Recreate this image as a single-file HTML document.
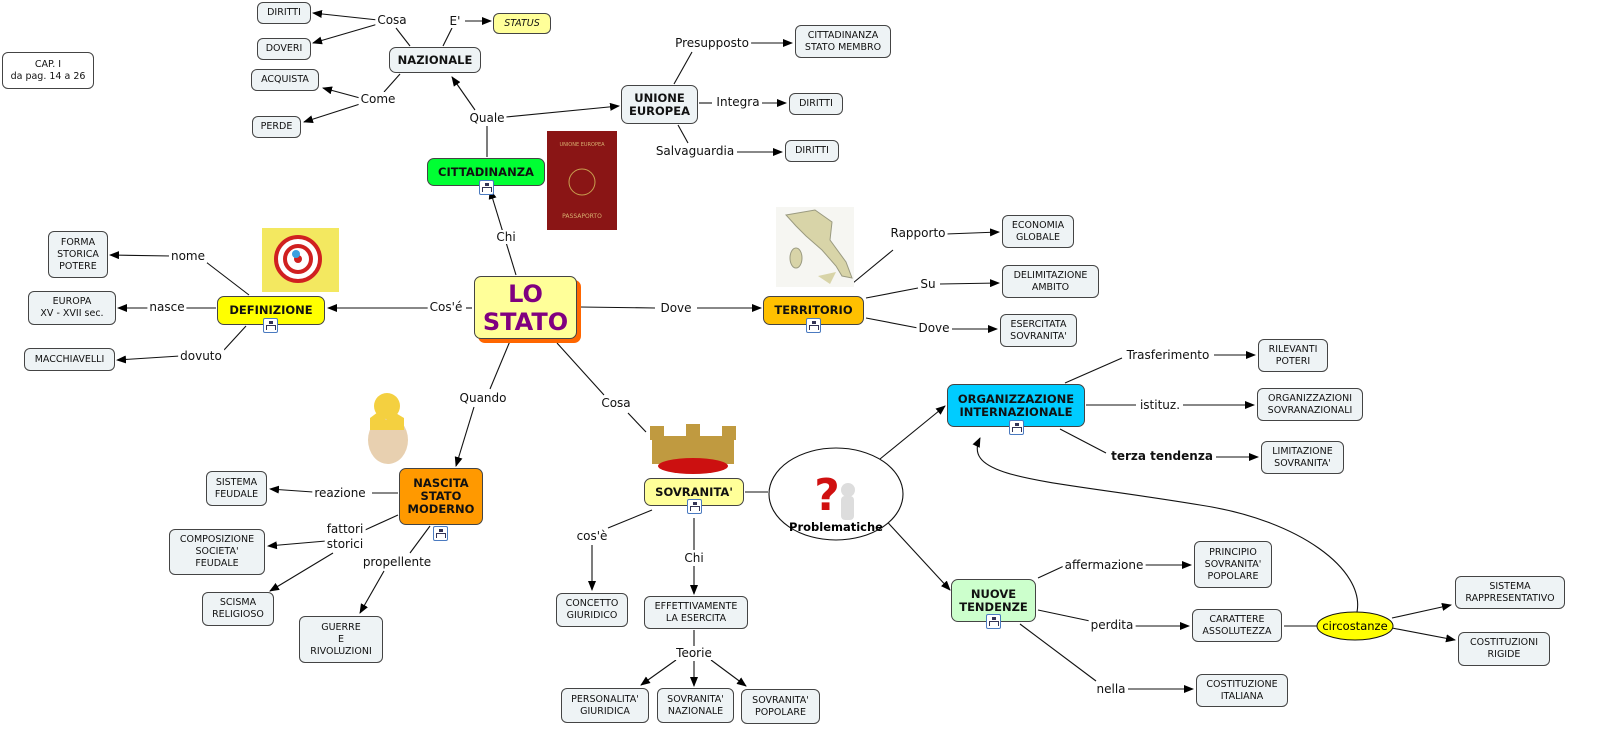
<!DOCTYPE html>
<html><head><meta charset="utf-8"><style>
body{margin:0;width:1603px;height:743px;background:#fff;position:relative;overflow:hidden;font-family:"DejaVu Sans","Liberation Sans",sans-serif}
.b{position:absolute;box-sizing:border-box;border:1px solid #444;border-radius:6px;background:#eef3f5;font-size:9.5px;color:#111;display:flex;align-items:center;justify-content:center;text-align:center;line-height:12px}
.m{font-weight:bold;font-size:11.5px;line-height:13px;border-radius:7px}
.l{position:absolute;font-size:12px;color:#111;background:#fff;padding:0 2px;transform:translate(-50%,-50%);white-space:nowrap;line-height:14px}
.ic{position:absolute;width:15px;height:15px;border:1px solid #4a7ac0;border-radius:2px;background:#fff;box-sizing:border-box}
.ic:before{content:"";position:absolute;left:5px;top:2px;width:4px;height:3px;background:#335}
.ic:after{content:"";position:absolute;left:2px;top:6px;width:8px;height:4px;border:1px solid #335;border-bottom:none}
svg{position:absolute;left:0;top:0}
</style></head><body>
<svg width="1603" height="743">
<defs><marker id="a" markerWidth="10" markerHeight="8" refX="9" refY="4" orient="auto" markerUnits="userSpaceOnUse"><path d="M0,0 L10,4 L0,8z" fill="#000"/></marker></defs>
<g stroke="#111" stroke-width="1.1" fill="none">
<line x1="378" y1="20" x2="313" y2="13" marker-end="url(#a)"/>
<line x1="378" y1="24" x2="313" y2="43" marker-end="url(#a)"/>
<line x1="396" y1="28" x2="410" y2="46"/>
<line x1="452" y1="28" x2="443" y2="46"/>
<line x1="465" y1="21" x2="491" y2="21" marker-end="url(#a)"/>
<line x1="400" y1="74" x2="384" y2="92"/>
<line x1="360" y1="98" x2="323" y2="88" marker-end="url(#a)"/>
<line x1="360" y1="104" x2="304" y2="122" marker-end="url(#a)"/>
<line x1="475" y1="110" x2="452" y2="77" marker-end="url(#a)"/>
<line x1="506" y1="117" x2="619" y2="106" marker-end="url(#a)"/>
<line x1="487" y1="126" x2="487" y2="157"/>
<line x1="674" y1="84" x2="692" y2="52"/>
<line x1="736" y1="43" x2="792" y2="43" marker-end="url(#a)"/>
<line x1="699" y1="103" x2="712" y2="103"/>
<line x1="762" y1="103" x2="786" y2="103" marker-end="url(#a)"/>
<line x1="678" y1="125" x2="688" y2="143"/>
<line x1="737" y1="152" x2="782" y2="152" marker-end="url(#a)"/>
<line x1="516" y1="275" x2="490" y2="190" marker-end="url(#a)"/>
<line x1="472" y1="308" x2="466" y2="308"/>
<line x1="428" y1="308" x2="328" y2="308" marker-end="url(#a)"/>
<line x1="249" y1="295" x2="206" y2="262"/>
<line x1="171" y1="256" x2="110" y2="255" marker-end="url(#a)"/>
<line x1="216" y1="308" x2="186" y2="308"/>
<line x1="148" y1="308" x2="118" y2="308" marker-end="url(#a)"/>
<line x1="246" y1="326" x2="224" y2="350"/>
<line x1="180" y1="356" x2="117" y2="360" marker-end="url(#a)"/>
<line x1="580" y1="307" x2="655" y2="308"/>
<line x1="697" y1="308" x2="761" y2="308" marker-end="url(#a)"/>
<line x1="853" y1="283" x2="893" y2="250"/>
<line x1="946" y1="234" x2="999" y2="232" marker-end="url(#a)"/>
<line x1="866" y1="298" x2="918" y2="288"/>
<line x1="940" y1="284" x2="999" y2="283" marker-end="url(#a)"/>
<line x1="866" y1="318" x2="918" y2="328"/>
<line x1="952" y1="329" x2="997" y2="329" marker-end="url(#a)"/>
<line x1="510" y1="341" x2="490" y2="389"/>
<line x1="474" y1="407" x2="456" y2="466" marker-end="url(#a)"/>
<line x1="557" y1="343" x2="604" y2="395"/>
<line x1="628" y1="413" x2="646" y2="432"/>
<line x1="398" y1="493" x2="372" y2="493"/>
<line x1="313" y1="492" x2="270" y2="489" marker-end="url(#a)"/>
<line x1="398" y1="515" x2="365" y2="530"/>
<line x1="326" y1="541" x2="268" y2="546" marker-end="url(#a)"/>
<line x1="333" y1="553" x2="270" y2="591" marker-end="url(#a)"/>
<line x1="430" y1="526" x2="410" y2="553"/>
<line x1="384" y1="571" x2="360" y2="613" marker-end="url(#a)"/>
<line x1="745" y1="492" x2="768" y2="492"/>
<line x1="652" y1="510" x2="608" y2="528"/>
<line x1="592" y1="545" x2="592" y2="590" marker-end="url(#a)"/>
<line x1="694" y1="518" x2="694" y2="550"/>
<line x1="694" y1="566" x2="694" y2="594" marker-end="url(#a)"/>
<line x1="694" y1="630" x2="694" y2="646"/>
<line x1="676" y1="660" x2="641" y2="685" marker-end="url(#a)"/>
<line x1="694" y1="661" x2="694" y2="686" marker-end="url(#a)"/>
<line x1="711" y1="660" x2="746" y2="686" marker-end="url(#a)"/>
<line x1="880" y1="459" x2="945" y2="406" marker-end="url(#a)"/>
<line x1="880" y1="514" x2="950" y2="590" marker-end="url(#a)"/>
<line x1="1065" y1="383" x2="1122" y2="358"/>
<line x1="1214" y1="355" x2="1255" y2="355" marker-end="url(#a)"/>
<line x1="1086" y1="405" x2="1136" y2="405"/>
<line x1="1183" y1="405" x2="1254" y2="405" marker-end="url(#a)"/>
<line x1="1060" y1="429" x2="1106" y2="453"/>
<line x1="1216" y1="457" x2="1258" y2="457" marker-end="url(#a)"/>
<line x1="1038" y1="578" x2="1064" y2="566"/>
<line x1="1145" y1="565" x2="1191" y2="565" marker-end="url(#a)"/>
<line x1="1038" y1="610" x2="1090" y2="621"/>
<line x1="1134" y1="626" x2="1189" y2="626" marker-end="url(#a)"/>
<line x1="1020" y1="624" x2="1096" y2="681"/>
<line x1="1128" y1="689" x2="1193" y2="689" marker-end="url(#a)"/>
<line x1="1284" y1="626" x2="1317" y2="626"/>
<line x1="1392" y1="618" x2="1451" y2="605" marker-end="url(#a)"/>
<line x1="1392" y1="628" x2="1455" y2="640" marker-end="url(#a)"/>
<path d="M1357 612 C1365 570 1300 520 1200 505 C1050 480 960 480 980 438" marker-end="url(#a)"/>
</g>
<ellipse cx="836" cy="494" rx="67" ry="46" fill="#fff" stroke="#111" stroke-width="1.1"/>
<ellipse cx="1355" cy="626" rx="38" ry="14" fill="#ffff00" stroke="#111" stroke-width="1"/>
<text x="1355" y="630" font-size="11.5" text-anchor="middle" font-family="DejaVu Sans, sans-serif">circostanze</text>
<text x="836" y="531" font-size="11.5" font-weight="bold" text-anchor="middle" font-family="DejaVu Sans, sans-serif">Problematiche</text>
<text x="827" y="510" font-size="44" font-weight="bold" fill="#d01010" text-anchor="middle" font-family="DejaVu Sans, sans-serif">?</text>
<ellipse cx="848" cy="490" rx="7" ry="7" fill="#ddd"/><rect x="841" y="496" width="13" height="24" rx="4" fill="#ddd"/>
<!-- passport -->
<rect x="547" y="131" width="70" height="99" fill="#8a1515"/>
<circle cx="582" cy="182" r="13" fill="none" stroke="#c9a050"/>
<text x="582" y="146" font-size="5" fill="#d8b070" text-anchor="middle">UNIONE EUROPEA</text>
<text x="582" y="218" font-size="6" fill="#d8b070" text-anchor="middle">PASSAPORTO</text>
<!-- target -->
<rect x="262" y="228" width="77" height="64" fill="#f3e860"/>
<circle cx="298" cy="259" r="22" fill="#fff" stroke="#d02020" stroke-width="4"/>
<circle cx="298" cy="259" r="13" fill="#fff" stroke="#d02020" stroke-width="4"/>
<circle cx="298" cy="259" r="4" fill="#d02020"/>
<circle cx="296" cy="254" r="4" fill="#3aa0e0"/>
<!-- italy -->
<rect x="776" y="207" width="78" height="80" fill="#f6f6f2"/>
<path d="M786 215 L815 210 L832 222 L830 240 L846 262 L852 278 L842 276 L836 266 L822 250 L806 236 L796 226 Z" fill="#d8d4a8" stroke="#9a9a80"/>
<ellipse cx="796" cy="258" rx="6" ry="10" fill="#d8d4a8" stroke="#9a9a80"/>
<path d="M818 276 L836 272 L830 284 Z" fill="#d8d4a8"/>
<!-- chick -->
<ellipse cx="388" cy="440" rx="20" ry="24" fill="#e8d0b0"/>
<circle cx="387" cy="406" r="13" fill="#f4d040"/>
<path d="M370 418 L378 412 L386 420 L394 412 L404 418 L404 430 L370 430Z" fill="#f4d040"/>
<!-- crown -->
<rect x="652" y="436" width="82" height="28" fill="#c09a40"/>
<rect x="650" y="426" width="14" height="14" fill="#c09a40"/><rect x="686" y="424" width="14" height="14" fill="#c09a40"/><rect x="722" y="426" width="14" height="14" fill="#c09a40"/>
<ellipse cx="693" cy="466" rx="35" ry="8" fill="#cc1010"/>
</svg>

<div class="b" style="left:257px;top:2px;width:54px;height:22px">DIRITTI</div>
<div class="b" style="left:257px;top:38px;width:54px;height:22px">DOVERI</div>
<div class="b" style="left:251px;top:69px;width:68px;height:22px">ACQUISTA</div>
<div class="b" style="left:252px;top:116px;width:49px;height:22px">PERDE</div>
<div class="b" style="left:493px;top:13px;width:58px;height:21px;background:#ffff99;font-style:italic">STATUS</div>
<div class="b m" style="left:389px;top:47px;width:92px;height:26px">NAZIONALE</div>
<div class="b" style="left:2px;top:52px;width:92px;height:37px;background:#fff">CAP. I<br>da pag. 14 a 26</div>
<div class="b m" style="left:427px;top:158px;width:118px;height:28px;background:#00ff33">CITTADINANZA</div><div class="ic" style="left:479px;top:180px"></div>
<div class="b m" style="left:621px;top:85px;width:77px;height:39px">UNIONE<br>EUROPEA</div>
<div class="b" style="left:795px;top:25px;width:96px;height:33px">CITTADINANZA<br>STATO MEMBRO</div>
<div class="b" style="left:789px;top:93px;width:54px;height:22px">DIRITTI</div>
<div class="b" style="left:785px;top:140px;width:54px;height:22px">DIRITTI</div>
<div class="b" style="left:48px;top:231px;width:60px;height:47px">FORMA<br>STORICA<br>POTERE</div>
<div class="b" style="left:28px;top:291px;width:88px;height:34px">EUROPA<br>XV - XVII sec.</div>
<div class="b" style="left:24px;top:348px;width:91px;height:23px">MACCHIAVELLI</div>
<div class="b m" style="left:217px;top:296px;width:108px;height:29px;background:#ffff00">DEFINIZIONE</div><div class="ic" style="left:263px;top:318px"></div>
<div style="position:absolute;left:478px;top:280px;width:103px;height:63px;background:#ff6600;border-radius:7px"></div>
<div class="b" style="left:474px;top:276px;width:103px;height:63px;background:#ffff99;color:#800080;font-weight:bold;font-size:24px;line-height:28px;border-radius:7px">LO<br>STATO</div>
<div class="b m" style="left:763px;top:296px;width:101px;height:29px;background:#ffc000">TERRITORIO</div><div class="ic" style="left:806px;top:318px"></div>
<div class="b" style="left:1002px;top:215px;width:72px;height:33px">ECONOMIA<br>GLOBALE</div>
<div class="b" style="left:1002px;top:265px;width:97px;height:33px">DELIMITAZIONE<br>AMBITO</div>
<div class="b" style="left:1000px;top:314px;width:77px;height:33px">ESERCITATA<br>SOVRANITA'</div>
<div class="b m" style="left:947px;top:384px;width:138px;height:43px;background:#00ccff">ORGANIZZAZIONE<br>INTERNAZIONALE</div><div class="ic" style="left:1009px;top:420px"></div>
<div class="b" style="left:1258px;top:339px;width:70px;height:33px">RILEVANTI<br>POTERI</div>
<div class="b" style="left:1257px;top:388px;width:106px;height:33px">ORGANIZZAZIONI<br>SOVRANAZIONALI</div>
<div class="b" style="left:1261px;top:441px;width:83px;height:33px">LIMITAZIONE<br>SOVRANITA'</div>
<div class="b m" style="left:399px;top:468px;width:84px;height:57px;background:#ff9900">NASCITA<br>STATO<br>MODERNO</div><div class="ic" style="left:433px;top:526px"></div>
<div class="b" style="left:206px;top:471px;width:61px;height:35px">SISTEMA<br>FEUDALE</div>
<div class="b" style="left:169px;top:529px;width:96px;height:46px">COMPOSIZIONE<br>SOCIETA'<br>FEUDALE</div>
<div class="b" style="left:202px;top:592px;width:72px;height:34px">SCISMA<br>RELIGIOSO</div>
<div class="b" style="left:299px;top:616px;width:84px;height:47px">GUERRE<br>E<br>RIVOLUZIONI</div>
<div class="b m" style="left:644px;top:478px;width:100px;height:28px;background:#ffff99">SOVRANITA'</div><div class="ic" style="left:687px;top:499px"></div>
<div class="b" style="left:556px;top:593px;width:72px;height:34px">CONCETTO<br>GIURIDICO</div>
<div class="b" style="left:644px;top:596px;width:104px;height:33px">EFFETTIVAMENTE<br>LA ESERCITA</div>
<div class="b" style="left:561px;top:688px;width:88px;height:35px">PERSONALITA'<br>GIURIDICA</div>
<div class="b" style="left:657px;top:688px;width:77px;height:35px">SOVRANITA'<br>NAZIONALE</div>
<div class="b" style="left:741px;top:689px;width:79px;height:35px">SOVRANITA'<br>POPOLARE</div>
<div class="b m" style="left:951px;top:579px;width:85px;height:43px;background:#ccffcc">NUOVE<br>TENDENZE</div><div class="ic" style="left:986px;top:614px"></div>
<div class="b" style="left:1194px;top:541px;width:78px;height:47px">PRINCIPIO<br>SOVRANITA'<br>POPOLARE</div>
<div class="b" style="left:1192px;top:609px;width:90px;height:33px">CARATTERE<br>ASSOLUTEZZA</div>
<div class="b" style="left:1455px;top:576px;width:110px;height:33px">SISTEMA<br>RAPPRESENTATIVO</div>
<div class="b" style="left:1458px;top:632px;width:92px;height:34px">COSTITUZIONI<br>RIGIDE</div>
<div class="b" style="left:1196px;top:674px;width:92px;height:33px">COSTITUZIONE<br>ITALIANA</div>

<div class="l" style="left:392px;top:20px">Cosa</div>
<div class="l" style="left:455px;top:21px">E'</div>
<div class="l" style="left:378px;top:99px">Come</div>
<div class="l" style="left:487px;top:118px">Quale</div>
<div class="l" style="left:712px;top:43px">Presupposto</div>
<div class="l" style="left:738px;top:102px">Integra</div>
<div class="l" style="left:695px;top:151px">Salvaguardia</div>
<div class="l" style="left:506px;top:237px">Chi</div>
<div class="l" style="left:188px;top:256px">nome</div>
<div class="l" style="left:167px;top:307px">nasce</div>
<div class="l" style="left:446px;top:307px">Cos'é</div>
<div class="l" style="left:201px;top:356px">dovuto</div>
<div class="l" style="left:676px;top:308px">Dove</div>
<div class="l" style="left:918px;top:233px">Rapporto</div>
<div class="l" style="left:928px;top:284px">Su</div>
<div class="l" style="left:934px;top:328px">Dove</div>
<div class="l" style="left:1168px;top:355px">Trasferimento</div>
<div class="l" style="left:1160px;top:405px">istituz.</div>
<div class="l" style="left:1162px;top:456px;font-weight:bold">terza tendenza</div>
<div class="l" style="left:483px;top:398px">Quando</div>
<div class="l" style="left:616px;top:403px">Cosa</div>
<div class="l" style="left:340px;top:493px">reazione</div>
<div class="l" style="left:345px;top:537px;line-height:15px;text-align:center">fattori<br>storici</div>
<div class="l" style="left:397px;top:562px">propellente</div>
<div class="l" style="left:592px;top:536px">cos'è</div>
<div class="l" style="left:694px;top:558px">Chi</div>
<div class="l" style="left:694px;top:653px">Teorie</div>
<div class="l" style="left:1104px;top:565px">affermazione</div>
<div class="l" style="left:1112px;top:625px">perdita</div>
<div class="l" style="left:1111px;top:689px">nella</div>
</body></html>
